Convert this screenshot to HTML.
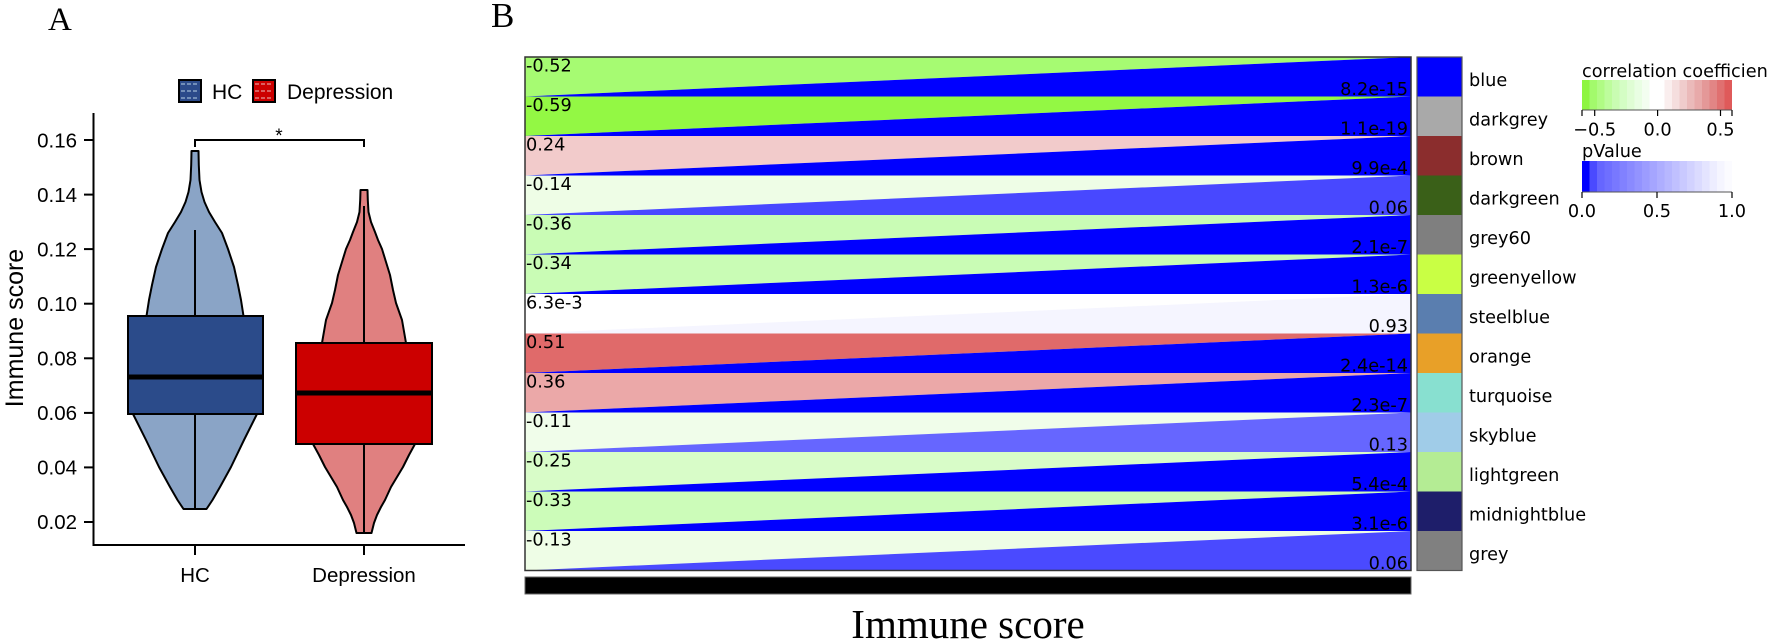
<!DOCTYPE html>
<html>
<head>
<meta charset="utf-8">
<style>
  html, body { margin:0; padding:0; background:#ffffff; }
  svg { display:block; }
  .sans { font-family: "Liberation Sans", Arial, sans-serif; }
  .dv { font-family: "DejaVu Sans", "Liberation Sans", sans-serif; }
  .serif { font-family: "Liberation Serif", "Times New Roman", serif; }
</style>
</head>
<body>
<svg width="1772" height="641" viewBox="0 0 1772 641" xmlns="http://www.w3.org/2000/svg">
  <rect x="0" y="0" width="1772" height="641" fill="#ffffff"/>

  <!-- ================= PANEL A ================= -->
  <text x="48" y="30" class="serif" font-size="33" fill="#000">A</text>

  <!-- legend -->
  <g>
    <rect x="179" y="80" width="22" height="22" fill="#2b4a8a" stroke="#000" stroke-width="2"/>
    <line x1="181" y1="84" x2="199" y2="84" stroke="#8aa4c8" stroke-width="1.5" stroke-dasharray="4 2"/>
    <line x1="181" y1="91" x2="199" y2="91" stroke="#8aa4c8" stroke-width="1.5" stroke-dasharray="4 2"/>
    <line x1="181" y1="98" x2="199" y2="98" stroke="#8aa4c8" stroke-width="1.5" stroke-dasharray="4 2"/>
    <text x="212" y="99" class="sans" font-size="21" fill="#000">HC</text>
    <rect x="253" y="80" width="22" height="22" fill="#cc0000" stroke="#000" stroke-width="2"/>
    <line x1="255" y1="84" x2="273" y2="84" stroke="#e08080" stroke-width="1.5" stroke-dasharray="4 2"/>
    <line x1="255" y1="91" x2="273" y2="91" stroke="#e08080" stroke-width="1.5" stroke-dasharray="4 2"/>
    <line x1="255" y1="98" x2="273" y2="98" stroke="#e08080" stroke-width="1.5" stroke-dasharray="4 2"/>
    <text x="287" y="99" class="sans" font-size="21" fill="#000">Depression</text>
  </g>

  <!-- y axis label -->
  <text transform="translate(23,328) rotate(-90)" text-anchor="middle" class="sans" font-size="25" fill="#000">Immune score</text>

  <!-- axes -->
  <line x1="93.5" y1="113" x2="93.5" y2="546" stroke="#000" stroke-width="2"/>
  <line x1="92.5" y1="545" x2="465" y2="545" stroke="#000" stroke-width="2"/>

  <!-- y ticks -->
  <g stroke="#000" stroke-width="2">
    <line x1="84" y1="140" x2="93" y2="140"/>
    <line x1="84" y1="194.6" x2="93" y2="194.6"/>
    <line x1="84" y1="249.1" x2="93" y2="249.1"/>
    <line x1="84" y1="303.7" x2="93" y2="303.7"/>
    <line x1="84" y1="358.3" x2="93" y2="358.3"/>
    <line x1="84" y1="412.9" x2="93" y2="412.9"/>
    <line x1="84" y1="467.4" x2="93" y2="467.4"/>
    <line x1="84" y1="522" x2="93" y2="522"/>
  </g>
  <g class="sans" font-size="20.5" fill="#000" text-anchor="end">
    <text x="77" y="147.5">0.16</text>
    <text x="77" y="202">0.14</text>
    <text x="77" y="256.5">0.12</text>
    <text x="77" y="311">0.10</text>
    <text x="77" y="365.5">0.08</text>
    <text x="77" y="420">0.06</text>
    <text x="77" y="474.5">0.04</text>
    <text x="77" y="529">0.02</text>
  </g>

  <!-- x ticks -->
  <g stroke="#000" stroke-width="2">
    <line x1="195" y1="545" x2="195" y2="555"/>
    <line x1="364" y1="545" x2="364" y2="555"/>
  </g>
  <g class="sans" font-size="20.5" fill="#000" text-anchor="middle">
    <text x="195" y="582">HC</text>
    <text x="364" y="582">Depression</text>
  </g>

  <!-- significance bracket -->
  <polyline points="195,147 195,140 364,140 364,147" fill="none" stroke="#000" stroke-width="2"/>
  <text x="279" y="142" class="sans" font-size="19" text-anchor="middle" fill="#000">*</text>

  <!-- HC violin -->
  <polygon fill="#8aa4c6" stroke="#000" stroke-width="2" stroke-linejoin="round"
    points="198.5,151 198.8,165 199.5,180 201.5,192 204.5,202 209,212 215,222 222,233 228,249 234,267 238,285 241,300 243.5,316 251,360 257,414 244,440 231,467 220,487 212.5,500 206.5,509 183.5,509 177.5,500 170,487 159,467 146,440 133,414 139,360 146.5,316 149,300 152,285 156,267 162,249 168,233 175,222 181,212 185.5,202 188.5,192 190.5,180 191.2,165 191.5,151"/>
  <line x1="195" y1="230" x2="195" y2="316" stroke="#000" stroke-width="2"/>
  <line x1="195" y1="414" x2="195" y2="509" stroke="#000" stroke-width="2"/>
  <rect x="128" y="316" width="135" height="98" fill="#2b4b8a" stroke="#000" stroke-width="2"/>
  <line x1="128" y1="377" x2="263" y2="377" stroke="#000" stroke-width="5"/>

  <!-- Depression violin -->
  <polygon fill="#e08080" stroke="#000" stroke-width="2" stroke-linejoin="round"
    points="367.5,190 367.8,200 368.5,212 371,222 375,232 378,240 382,249 386,262 390,275 393,290 396,303 402,320 406,343 416,395 415,444 409,455 403,467 391,487 385,500 381,507 377,515 374,523 371.5,533 356.5,533 354,523 351,515 347,507 343,500 337,487 325,467 319,455 313,444 312,395 322,343 326,320 332,303 335,290 338,275 342,262 346,249 350,240 353,232 357,222 359.5,212 360.2,200 360.5,190"/>
  <line x1="364" y1="206" x2="364" y2="343" stroke="#000" stroke-width="2"/>
  <line x1="364" y1="444" x2="364" y2="533" stroke="#000" stroke-width="2"/>
  <rect x="296" y="343" width="136" height="101" fill="#cc0000" stroke="#000" stroke-width="2"/>
  <line x1="296" y1="393" x2="432" y2="393" stroke="#000" stroke-width="5"/>

  <!-- ================= PANEL B ================= -->
  <text x="491" y="27" class="serif" font-size="35" fill="#000">B</text>

  <!-- heatmap rows: corr triangle (upper-left) + p triangle (lower-right) -->
  <g>
    <polygon points="525,57 1411,57 525,96.5" fill="#a6fb72"/>
    <polygon points="1411,57 1411,96.5 525,96.5" fill="#0000ff"/>
    <polygon points="525,96.5 1411,96.5 525,136" fill="#93f844"/>
    <polygon points="1411,96.5 1411,136 525,136" fill="#0000ff"/>
    <polygon points="525,136 1411,136 525,175.5" fill="#f2cbcb"/>
    <polygon points="1411,136 1411,175.5 525,175.5" fill="#0000ff"/>
    <polygon points="525,175.5 1411,175.5 525,215" fill="#eefde6"/>
    <polygon points="1411,175.5 1411,215 525,215" fill="#4848ff"/>
    <polygon points="525,215 1411,215 525,254.5" fill="#c9fcb5"/>
    <polygon points="1411,215 1411,254.5 525,254.5" fill="#0000ff"/>
    <polygon points="525,254.5 1411,254.5 525,294" fill="#c9fcb5"/>
    <polygon points="1411,254.5 1411,294 525,294" fill="#0000ff"/>
    <polygon points="525,294 1411,294 525,333.5" fill="#ffffff"/>
    <polygon points="1411,294 1411,333.5 525,333.5" fill="#f5f5ff"/>
    <polygon points="525,333.5 1411,333.5 525,373" fill="#e06a6a"/>
    <polygon points="1411,333.5 1411,373 525,373" fill="#0000ff"/>
    <polygon points="525,373 1411,373 525,412.5" fill="#eba8a8"/>
    <polygon points="1411,373 1411,412.5 525,412.5" fill="#0000ff"/>
    <polygon points="525,412.5 1411,412.5 525,452" fill="#f0fdea"/>
    <polygon points="1411,412.5 1411,452 525,452" fill="#6666ff"/>
    <polygon points="525,452 1411,452 525,491.5" fill="#d8fcc8"/>
    <polygon points="1411,452 1411,491.5 525,491.5" fill="#0000ff"/>
    <polygon points="525,491.5 1411,491.5 525,531" fill="#ccfcb9"/>
    <polygon points="1411,491.5 1411,531 525,531" fill="#0000ff"/>
    <polygon points="525,531 1411,531 525,570.5" fill="#eefde6"/>
    <polygon points="1411,531 1411,570.5 525,570.5" fill="#4a4aff"/>
  </g>
  <rect x="525" y="57" width="886" height="513.5" fill="none" stroke="#333" stroke-width="1.5"/>

  <!-- correlation texts -->
  <g class="dv" font-size="17.7" fill="#000">
    <text x="526" y="71.5">-0.52</text>
    <text x="526" y="111">-0.59</text>
    <text x="526" y="150.5">0.24</text>
    <text x="526" y="190">-0.14</text>
    <text x="526" y="229.5">-0.36</text>
    <text x="526" y="269">-0.34</text>
    <text x="526" y="308.5">6.3e-3</text>
    <text x="526" y="348">0.51</text>
    <text x="526" y="387.5">0.36</text>
    <text x="526" y="427">-0.11</text>
    <text x="526" y="466.5">-0.25</text>
    <text x="526" y="506">-0.33</text>
    <text x="526" y="545.5">-0.13</text>
  </g>
  <!-- p-value texts -->
  <g class="dv" font-size="17.7" fill="#000" text-anchor="end">
    <text x="1408" y="95">8.2e-15</text>
    <text x="1408" y="134.5">1.1e-19</text>
    <text x="1408" y="174">9.9e-4</text>
    <text x="1408" y="213.5">0.06</text>
    <text x="1408" y="253">2.1e-7</text>
    <text x="1408" y="292.5">1.3e-6</text>
    <text x="1408" y="332">0.93</text>
    <text x="1408" y="371.5">2.4e-14</text>
    <text x="1408" y="411">2.3e-7</text>
    <text x="1408" y="450.5">0.13</text>
    <text x="1408" y="490">5.4e-4</text>
    <text x="1408" y="529.5">3.1e-6</text>
    <text x="1408" y="569">0.06</text>
  </g>

  <!-- black bar -->
  <rect x="525" y="577" width="886" height="17" fill="#000" stroke="#666" stroke-width="1"/>
  <text x="968" y="638" class="serif" font-size="41" text-anchor="middle" fill="#000">Immune score</text>

  <!-- module color strip -->
  <g>
    <rect x="1417" y="57" width="45" height="39.5" fill="#0000ff"/>
    <rect x="1417" y="96.5" width="45" height="39.5" fill="#a9a9a9"/>
    <rect x="1417" y="136" width="45" height="39.5" fill="#8b2d2d"/>
    <rect x="1417" y="175.5" width="45" height="39.5" fill="#3a6018"/>
    <rect x="1417" y="215" width="45" height="39.5" fill="#7f7f7f"/>
    <rect x="1417" y="254.5" width="45" height="39.5" fill="#c9ff44"/>
    <rect x="1417" y="294" width="45" height="39.5" fill="#5a7eaf"/>
    <rect x="1417" y="333.5" width="45" height="39.5" fill="#e8a028"/>
    <rect x="1417" y="373" width="45" height="39.5" fill="#88e0d0"/>
    <rect x="1417" y="412.5" width="45" height="39.5" fill="#a0cce8"/>
    <rect x="1417" y="452" width="45" height="39.5" fill="#b4ec94"/>
    <rect x="1417" y="491.5" width="45" height="39.5" fill="#1e1e6a"/>
    <rect x="1417" y="531" width="45" height="39.5" fill="#808080"/>
    <rect x="1417" y="57" width="45" height="513.5" fill="none" stroke="#555" stroke-width="1.2"/>
  </g>
  <g class="dv" font-size="17.7" fill="#000">
    <text x="1469" y="86">blue</text>
    <text x="1469" y="125.5">darkgrey</text>
    <text x="1469" y="165">brown</text>
    <text x="1469" y="204.5">darkgreen</text>
    <text x="1469" y="244">grey60</text>
    <text x="1469" y="283.5">greenyellow</text>
    <text x="1469" y="323">steelblue</text>
    <text x="1469" y="362.5">orange</text>
    <text x="1469" y="402">turquoise</text>
    <text x="1469" y="441.5">skyblue</text>
    <text x="1469" y="481">lightgreen</text>
    <text x="1469" y="520.5">midnightblue</text>
    <text x="1469" y="560">grey</text>
  </g>

  <!-- correlation colorbar -->
  <text x="1582" y="77" class="dv" font-size="17.7" fill="#000">correlation coefficien</text>
  <g>
    <rect x="1582" y="80" width="7.6" height="30" fill="#8ef540"/>
    <rect x="1589.5" y="80" width="7.6" height="30" fill="#a3fa6c"/>
    <rect x="1597" y="80" width="7.6" height="30" fill="#b0fb84"/>
    <rect x="1604.5" y="80" width="7.6" height="30" fill="#bdfc9c"/>
    <rect x="1612" y="80" width="7.6" height="30" fill="#c9fcb2"/>
    <rect x="1619.5" y="80" width="7.6" height="30" fill="#d4fdc4"/>
    <rect x="1627" y="80" width="7.6" height="30" fill="#dffdd4"/>
    <rect x="1634.5" y="80" width="7.6" height="30" fill="#e9fee3"/>
    <rect x="1642" y="80" width="7.6" height="30" fill="#f3fef0"/>
    <rect x="1649.5" y="80" width="7.6" height="30" fill="#ffffff"/>
    <rect x="1657" y="80" width="7.6" height="30" fill="#ffffff"/>
    <rect x="1664.5" y="80" width="7.6" height="30" fill="#faeeee"/>
    <rect x="1672" y="80" width="7.6" height="30" fill="#f5dede"/>
    <rect x="1679.5" y="80" width="7.6" height="30" fill="#f0cccc"/>
    <rect x="1687" y="80" width="7.6" height="30" fill="#ebbaba"/>
    <rect x="1694.5" y="80" width="7.6" height="30" fill="#e8aaaa"/>
    <rect x="1702" y="80" width="7.6" height="30" fill="#e49898"/>
    <rect x="1709.5" y="80" width="7.6" height="30" fill="#e28585"/>
    <rect x="1717" y="80" width="7.6" height="30" fill="#e07070"/>
    <rect x="1724.5" y="80" width="7.5" height="30" fill="#df5a5a"/>
    <line x1="1582" y1="110" x2="1732" y2="110" stroke="#555" stroke-width="1"/>
  </g>
  <g stroke="#000" stroke-width="1.2">
    <line x1="1582" y1="110" x2="1582" y2="116"/>
    <line x1="1594.7" y1="110" x2="1594.7" y2="116"/>
    <line x1="1657.6" y1="110" x2="1657.6" y2="116"/>
    <line x1="1720.5" y1="110" x2="1720.5" y2="116"/>
    <line x1="1732" y1="110" x2="1732" y2="116"/>
  </g>
  <g class="dv" font-size="17.7" fill="#000" text-anchor="middle">
    <text x="1594.7" y="135.5">−0.5</text>
    <text x="1657.6" y="135.5">0.0</text>
    <text x="1720.5" y="135.5">0.5</text>
  </g>

  <!-- pValue colorbar -->
  <text x="1582" y="157" class="dv" font-size="17.7" fill="#000">pValue</text>
  <g>
    <rect x="1582" y="161" width="7.6" height="31" fill="#0000ff"/>
    <rect x="1589.5" y="161" width="7.6" height="31" fill="#4a4aff"/>
    <rect x="1597" y="161" width="7.6" height="31" fill="#6666ff"/>
    <rect x="1604.5" y="161" width="7.6" height="31" fill="#6f6fff"/>
    <rect x="1612" y="161" width="7.6" height="31" fill="#7878ff"/>
    <rect x="1619.5" y="161" width="7.6" height="31" fill="#8181ff"/>
    <rect x="1627" y="161" width="7.6" height="31" fill="#8a8aff"/>
    <rect x="1634.5" y="161" width="7.6" height="31" fill="#9393ff"/>
    <rect x="1642" y="161" width="7.6" height="31" fill="#9c9cff"/>
    <rect x="1649.5" y="161" width="7.6" height="31" fill="#a5a5ff"/>
    <rect x="1657" y="161" width="7.6" height="31" fill="#aeaeff"/>
    <rect x="1664.5" y="161" width="7.6" height="31" fill="#b7b7ff"/>
    <rect x="1672" y="161" width="7.6" height="31" fill="#c0c0ff"/>
    <rect x="1679.5" y="161" width="7.6" height="31" fill="#c9c9ff"/>
    <rect x="1687" y="161" width="7.6" height="31" fill="#d2d2ff"/>
    <rect x="1694.5" y="161" width="7.6" height="31" fill="#dbdbff"/>
    <rect x="1702" y="161" width="7.6" height="31" fill="#e4e4ff"/>
    <rect x="1709.5" y="161" width="7.6" height="31" fill="#ededff"/>
    <rect x="1717" y="161" width="7.6" height="31" fill="#f5f5ff"/>
    <rect x="1724.5" y="161" width="7.5" height="31" fill="#fbfbff"/>
    <line x1="1582" y1="192" x2="1732" y2="192" stroke="#555" stroke-width="1"/>
  </g>
  <g stroke="#000" stroke-width="1.2">
    <line x1="1582" y1="192" x2="1582" y2="198"/>
    <line x1="1657" y1="192" x2="1657" y2="198"/>
    <line x1="1732" y1="192" x2="1732" y2="198"/>
  </g>
  <g class="dv" font-size="17.7" fill="#000" text-anchor="middle">
    <text x="1582" y="217">0.0</text>
    <text x="1657" y="217">0.5</text>
    <text x="1732" y="217">1.0</text>
  </g>
</svg>
</body>
</html>
